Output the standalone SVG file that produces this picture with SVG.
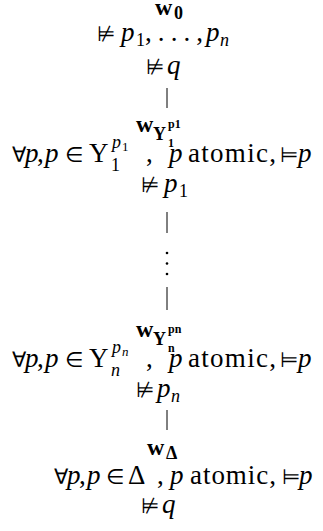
<svg xmlns="http://www.w3.org/2000/svg" width="323" height="531" viewBox="0 0 323 531">
<style>
text{font-family:"Liberation Serif","DejaVu Serif","DejaVu Sans",serif;fill:#000}
.m{font-size:27px}
.w{font-size:24px;font-weight:bold}
.i{font-style:italic}
.s{font-size:18px}
.ls{font-size:18px}
.ss{font-size:12px}
.sn{font-size:13px}
.sym{font-family:"DejaVu Sans",sans-serif;font-size:21px}
.edge{stroke:#000;stroke-width:1}
</style>
<g id="connectors">
<line class="edge" x1="167" y1="88" x2="167" y2="108"/>
<line class="edge" x1="167" y1="212" x2="167" y2="233"/>
<circle cx="167" cy="253" r="1.3"/>
<circle cx="167" cy="263.5" r="1.3"/>
<circle cx="167" cy="274" r="1.3"/>
<line class="edge" x1="167" y1="287" x2="167" y2="310"/>
<line class="edge" x1="167" y1="410" x2="167" y2="430"/>
</g>
<g id="w0">
<text class="w" x="155" y="15">w<tspan class="ls" x="174" y="19">0</tspan></text>
<text class="sym" x="97" y="41">⊭</text>
<text class="m i" x="121" y="41">p</text>
<text class="s" x="136" y="46">1</text>
<text class="m" x="145" y="41" textLength="58" lengthAdjust="spacing">, . . . ,</text>
<text class="m i" x="206" y="41">p</text>
<text class="s i" x="220" y="46">n</text>
<text class="sym" x="146" y="74">⊭</text>
<text class="m i" x="167" y="74">q</text>
</g>
<g id="w1">
<text class="w" x="136" y="132">w<tspan class="ls" x="153" y="140">Υ</tspan><tspan class="ss" x="168" y="128">p1</tspan><tspan class="ss" x="168" y="147">1</tspan></text>
<text class="sym" x="12" y="162">∀</text>
<text class="m i" x="25" y="162">p</text>
<text class="m" x="37" y="162">,</text>
<text class="m i" x="45" y="162">p</text>
<text class="sym" x="65" y="162">∈</text>
<text class="m" x="89" y="162">Υ<tspan class="s i" x="112" y="148">p</tspan><tspan class="sn" x="122" y="151">1</tspan><tspan class="s" x="111" y="171">1</tspan></text>
<text class="m" x="146" y="162">,</text>
<text class="m i" x="169" y="162">p</text>
<text class="m" x="188" y="162" textLength="88" lengthAdjust="spacing">atomic,</text>
<text class="sym" x="280" y="162">⊨</text>
<text class="m i" x="298" y="162">p</text>
<text class="sym" x="141" y="192">⊭</text>
<text class="m i" x="164" y="192">p</text>
<text class="s" x="179" y="197">1</text>
</g>
<g id="wn">
<text class="w" x="136" y="337">w<tspan class="ls" x="153" y="345">Υ</tspan><tspan class="ss" x="168" y="333">pn</tspan><tspan class="ss" x="168" y="352">n</tspan></text>
<text class="sym" x="12" y="367">∀</text>
<text class="m i" x="25" y="367">p</text>
<text class="m" x="37" y="367">,</text>
<text class="m i" x="45" y="367">p</text>
<text class="sym" x="65" y="367">∈</text>
<text class="m" x="89" y="367">Υ<tspan class="s i" x="112" y="353">p</tspan><tspan class="sn i" x="122" y="356">n</tspan><tspan class="s i" x="111" y="376">n</tspan></text>
<text class="m" x="146" y="367">,</text>
<text class="m i" x="169" y="367">p</text>
<text class="m" x="188" y="367" textLength="88" lengthAdjust="spacing">atomic,</text>
<text class="sym" x="280" y="367">⊨</text>
<text class="m i" x="298" y="367">p</text>
<text class="sym" x="136" y="397">⊭</text>
<text class="m i" x="157" y="397">p</text>
<text class="s i" x="171" y="402">n</text>
</g>
<g id="wdelta">
<text class="w" x="147" y="455">w<tspan class="ls" x="166" y="459">Δ</tspan></text>
<text class="sym" x="54" y="484">∀</text>
<text class="m i" x="67" y="484">p</text>
<text class="m" x="79" y="484">,</text>
<text class="m i" x="87" y="484">p</text>
<text class="sym" x="106" y="484">∈</text>
<text class="m" x="128" y="484">Δ</text>
<text class="m" x="157" y="484">,</text>
<text class="m i" x="170" y="484">p</text>
<text class="m" x="190" y="484" textLength="86" lengthAdjust="spacing">atomic,</text>
<text class="sym" x="282" y="484">⊨</text>
<text class="m i" x="299" y="484">p</text>
<text class="sym" x="141" y="513">⊭</text>
<text class="m i" x="162" y="513">q</text>
</g>
</svg>
